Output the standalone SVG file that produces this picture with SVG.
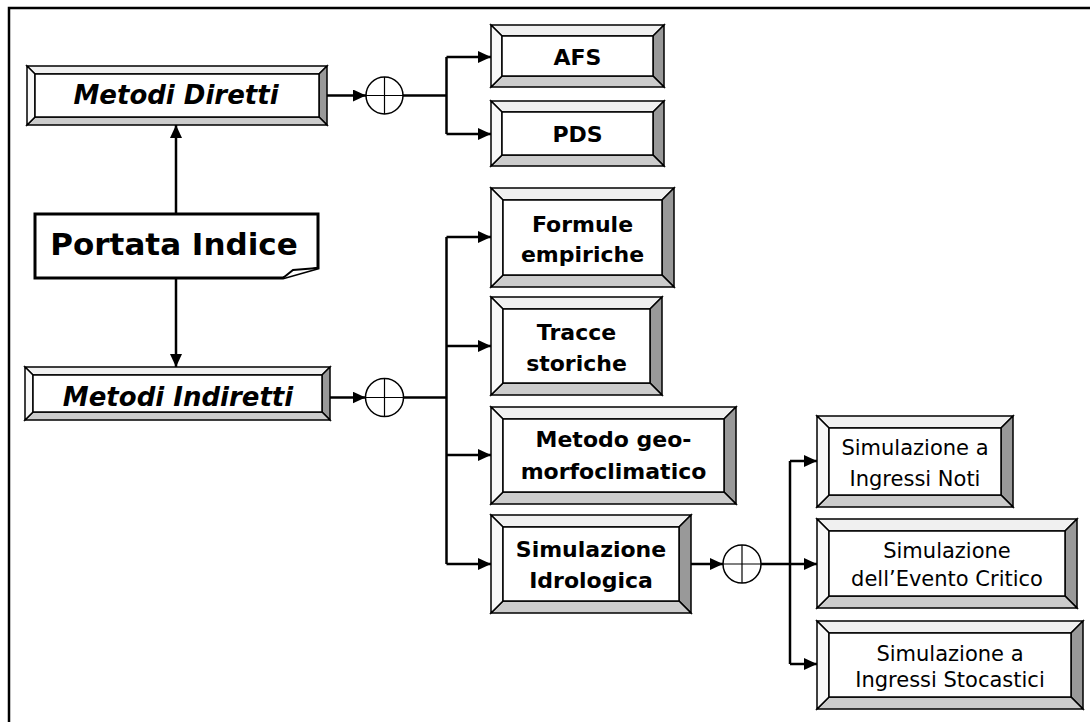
<svg xmlns="http://www.w3.org/2000/svg" width="1090" height="722" viewBox="0 0 1090 722">
<style>
.bv{stroke:#000;stroke-width:1.5;stroke-linejoin:miter}
.t{fill:#f0f0f0}.l{fill:#f8f8f8}.r{fill:#999}.b{fill:#ccc}.f{fill:#fff}
.lbl{font-family:"DejaVu Sans","Liberation Sans",sans-serif;fill:#000;text-anchor:middle}
.bold{font-weight:bold;font-size:22px}
.ital{font-weight:bold;font-style:italic;font-size:26px}
.reg{font-size:21px}
.c{fill:none;stroke:#000;stroke-width:2.5}
.sum{fill:#fff;stroke:#000;stroke-width:1.5}
.x{stroke:#000;stroke-width:1.2}
</style>
<defs>
<marker id="ah" markerUnits="userSpaceOnUse" markerWidth="14" markerHeight="12" refX="13" refY="6" orient="auto">
<path d="M0,0 L13,6 L0,12 Z" fill="#000"/>
</marker>
</defs>
<rect width="1090" height="722" fill="#fff"/>
<path d="M9,722 V8 H1090" fill="none" stroke="#000" stroke-width="2.5"/>

<g id="connectors">
<line class="c" x1="176" y1="214" x2="176" y2="125" marker-end="url(#ah)"/>
<line class="c" x1="176" y1="278" x2="176" y2="367" marker-end="url(#ah)"/>
<line class="c" x1="320" y1="95.5" x2="366" y2="95.5" stroke-width="2" marker-end="url(#ah)"/>
<line class="c" x1="403" y1="95.5" x2="446.5" y2="95.5"/>
<line class="c" x1="446.5" y1="57" x2="446.5" y2="134"/>
<line class="c" x1="446.5" y1="57" x2="491" y2="57" marker-end="url(#ah)"/>
<line class="c" x1="446.5" y1="134" x2="491" y2="134" marker-end="url(#ah)"/>
<line class="c" x1="321" y1="397.5" x2="365.5" y2="397.5" stroke-width="2" marker-end="url(#ah)"/>
<line class="c" x1="403.5" y1="397.5" x2="446.5" y2="397.5"/>
<line class="c" x1="446.5" y1="237" x2="446.5" y2="564"/>
<line class="c" x1="446.5" y1="237" x2="491" y2="237" marker-end="url(#ah)"/>
<line class="c" x1="446.5" y1="346" x2="491" y2="346" marker-end="url(#ah)"/>
<line class="c" x1="446.5" y1="455" x2="491" y2="455" marker-end="url(#ah)"/>
<line class="c" x1="446.5" y1="564" x2="491" y2="564" marker-end="url(#ah)"/>
<line class="c" x1="681" y1="564" x2="723" y2="564" stroke-width="2" marker-end="url(#ah)"/>
<line class="c" x1="761" y1="564" x2="817" y2="564" marker-end="url(#ah)"/>
<line class="c" x1="790" y1="461" x2="790" y2="664"/>
<line class="c" x1="790" y1="461" x2="817" y2="461" marker-end="url(#ah)"/>
<line class="c" x1="790" y1="664" x2="817" y2="664" marker-end="url(#ah)"/>
</g>

<g id="sum-diretti">
<circle class="sum" cx="384.5" cy="95.5" r="18.5"/>
<line class="x" x1="366" y1="95.5" x2="403" y2="95.5"/>
<line class="x" x1="384.5" y1="77" x2="384.5" y2="114"/>
</g>
<g id="sum-indiretti">
<circle class="sum" cx="384.5" cy="397.5" r="19"/>
<line class="x" x1="365.5" y1="397.5" x2="403.5" y2="397.5"/>
<line class="x" x1="384.5" y1="378.5" x2="384.5" y2="416.5"/>
</g>
<g id="sum-simulazione">
<circle class="sum" cx="742" cy="564" r="19"/>
<line class="x" x1="723" y1="564" x2="761" y2="564"/>
<line class="x" x1="742" y1="545" x2="742" y2="583"/>
</g>

<g id="portata-indice">
<path d="M35,214 H318 V268 L283,278 H35 Z" fill="#fff" stroke="#000" stroke-width="3" stroke-linejoin="miter"/>
<path d="M283,278 L293,270 L318,268" fill="#fff" stroke="#000" stroke-width="2"/>
<text class="lbl" x="174" y="255" font-weight="bold" font-size="31">Portata Indice</text>
</g>

<g id="metodi-diretti">
<polygon class="bv t" points="27,66 327,66 319,74 35,74"/>
<polygon class="bv r" points="327,66 327,125 319,117 319,74"/>
<polygon class="bv b" points="27,125 327,125 319,117 35,117"/>
<polygon class="bv l" points="27,66 27,125 35,117 35,74"/>
<rect class="bv f" x="35" y="74" width="284" height="43"/>
<text class="lbl ital" x="176" y="104">Metodi Diretti</text>
</g>

<g id="metodi-indiretti">
<polygon class="bv t" points="25,367 330,367 322,375 33,375"/>
<polygon class="bv r" points="330,367 330,420 322,412 322,375"/>
<polygon class="bv b" points="25,420 330,420 322,412 33,412"/>
<polygon class="bv l" points="25,367 25,420 33,412 33,375"/>
<rect class="bv f" x="33" y="375" width="289" height="37"/>
<text class="lbl ital" x="178" y="406">Metodi Indiretti</text>
</g>

<g id="afs">
<polygon class="bv t" points="491,25 664,25 653,36 502,36"/>
<polygon class="bv r" points="664,25 664,87 653,76 653,36"/>
<polygon class="bv b" points="491,87 664,87 653,76 502,76"/>
<polygon class="bv l" points="491,25 491,87 502,76 502,36"/>
<rect class="bv f" x="502" y="36" width="151" height="40"/>
<text class="lbl bold" x="577.5" y="65">AFS</text>
</g>

<g id="pds">
<polygon class="bv t" points="491,101 664,101 653,112 502,112"/>
<polygon class="bv r" points="664,101 664,166 653,155 653,112"/>
<polygon class="bv b" points="491,166 664,166 653,155 502,155"/>
<polygon class="bv l" points="491,101 491,166 502,155 502,112"/>
<rect class="bv f" x="502" y="112" width="151" height="43"/>
<text class="lbl bold" x="577.5" y="142">PDS</text>
</g>

<g id="formule-empiriche">
<polygon class="bv t" points="491,188 674,188 662,200 503,200"/>
<polygon class="bv r" points="674,188 674,287 662,275 662,200"/>
<polygon class="bv b" points="491,287 674,287 662,275 503,275"/>
<polygon class="bv l" points="491,188 491,287 503,275 503,200"/>
<rect class="bv f" x="503" y="200" width="159" height="75"/>
<text class="lbl bold" x="582.5" y="232">Formule</text>
<text class="lbl bold" x="582.5" y="262">empiriche</text>
</g>

<g id="tracce-storiche">
<polygon class="bv t" points="491,297 662,297 650,309 503,309"/>
<polygon class="bv r" points="662,297 662,395 650,383 650,309"/>
<polygon class="bv b" points="491,395 662,395 650,383 503,383"/>
<polygon class="bv l" points="491,297 491,395 503,383 503,309"/>
<rect class="bv f" x="503" y="309" width="147" height="74"/>
<text class="lbl bold" x="576.5" y="340">Tracce</text>
<text class="lbl bold" x="576.5" y="371">storiche</text>
</g>

<g id="metodo-geomorfoclimatico">
<polygon class="bv t" points="491,407 736,407 724,419 503,419"/>
<polygon class="bv r" points="736,407 736,504 724,492 724,419"/>
<polygon class="bv b" points="491,504 736,504 724,492 503,492"/>
<polygon class="bv l" points="491,407 491,504 503,492 503,419"/>
<rect class="bv f" x="503" y="419" width="221" height="73"/>
<text class="lbl bold" x="613.5" y="447">Metodo geo-</text>
<text class="lbl bold" x="613.5" y="479">morfoclimatico</text>
</g>

<g id="simulazione-idrologica">
<polygon class="bv t" points="491,515 691,515 679,527 503,527"/>
<polygon class="bv r" points="691,515 691,613 679,601 679,527"/>
<polygon class="bv b" points="491,613 691,613 679,601 503,601"/>
<polygon class="bv l" points="491,515 491,613 503,601 503,527"/>
<rect class="bv f" x="503" y="527" width="176" height="74"/>
<text class="lbl bold" x="591" y="557">Simulazione</text>
<text class="lbl bold" x="591" y="588">Idrologica</text>
</g>

<g id="ingressi-noti">
<polygon class="bv t" points="817,416 1013,416 1001,428 829,428"/>
<polygon class="bv r" points="1013,416 1013,507 1001,495 1001,428"/>
<polygon class="bv b" points="817,507 1013,507 1001,495 829,495"/>
<polygon class="bv l" points="817,416 817,507 829,495 829,428"/>
<rect class="bv f" x="829" y="428" width="172" height="67"/>
<text class="lbl reg" x="915" y="455">Simulazione a</text>
<text class="lbl reg" x="915" y="486">Ingressi Noti</text>
</g>

<g id="evento-critico">
<polygon class="bv t" points="817,519 1077,519 1065,531 829,531"/>
<polygon class="bv r" points="1077,519 1077,608 1065,596 1065,531"/>
<polygon class="bv b" points="817,608 1077,608 1065,596 829,596"/>
<polygon class="bv l" points="817,519 817,608 829,596 829,531"/>
<rect class="bv f" x="829" y="531" width="236" height="65"/>
<text class="lbl reg" x="947" y="558">Simulazione</text>
<text class="lbl reg" x="947" y="586">dell’Evento Critico</text>
</g>

<g id="ingressi-stocastici">
<polygon class="bv t" points="817,621 1083,621 1071,633 829,633"/>
<polygon class="bv r" points="1083,621 1083,709 1071,697 1071,633"/>
<polygon class="bv b" points="817,709 1083,709 1071,697 829,697"/>
<polygon class="bv l" points="817,621 817,709 829,697 829,633"/>
<rect class="bv f" x="829" y="633" width="242" height="64"/>
<text class="lbl reg" x="950" y="661">Simulazione a</text>
<text class="lbl reg" x="950" y="687">Ingressi Stocastici</text>
</g>
</svg>
